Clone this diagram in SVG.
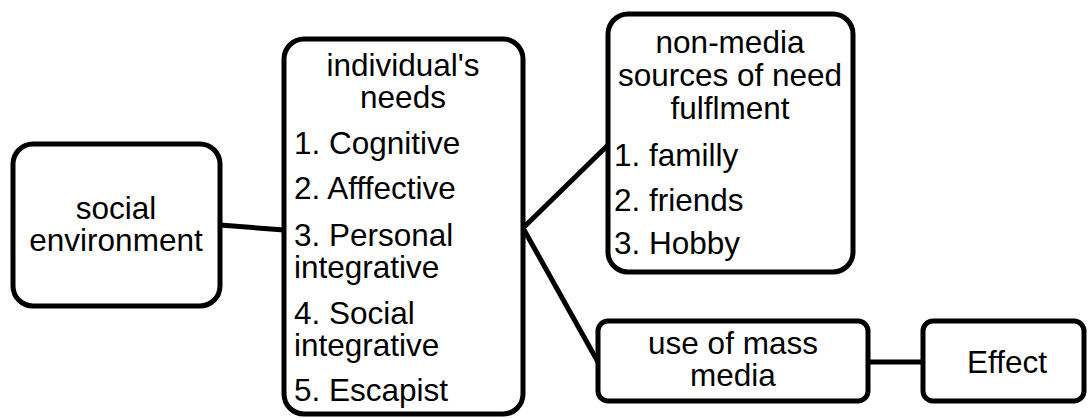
<svg xmlns="http://www.w3.org/2000/svg" width="1088" height="419" viewBox="0 0 1088 419">
<style>
.box{fill:#fff;stroke:#000;stroke-width:5}
.t{font-family:"Liberation Sans",Arial,sans-serif;font-size:31.5px;fill:#000}
.c{text-anchor:middle}
.ln{stroke:#000;stroke-width:5;fill:none}
</style>
<rect width="1088" height="419" fill="#fff"/>
<g id="connectors">
<line class="ln" x1="220" y1="225" x2="284" y2="230"/>
<line class="ln" x1="523" y1="228" x2="608" y2="145"/>
<line class="ln" x1="523" y1="228" x2="598" y2="362"/>
<line class="ln" x1="868" y1="362" x2="923" y2="362"/>
</g>
<g id="social">
<rect class="box" x="13" y="144" width="207" height="162" rx="20"/>
<text class="t c" x="116" y="219">social</text>
<text class="t c" x="116" y="251">environment</text>
</g>
<g id="needs">
<rect class="box" x="284" y="39" width="239" height="375" rx="20"/>
<text class="t c" x="403" y="76">individual's</text>
<text class="t c" x="403" y="108">needs</text>
<text class="t" x="294" y="154">1. Cognitive</text>
<text class="t" x="294" y="199">2. Afffective</text>
<text class="t" x="294" y="246">3. Personal</text>
<text class="t" x="294" y="278">integrative</text>
<text class="t" x="294" y="324">4. Social</text>
<text class="t" x="294" y="356">integrative</text>
<text class="t" x="294" y="401">5. Escapist</text>
</g>
<g id="nonmedia">
<rect class="box" x="608" y="14" width="245" height="258" rx="20"/>
<text class="t c" x="730" y="53">non-media</text>
<text class="t c" x="730" y="86">sources of need</text>
<text class="t c" x="730" y="119">fulflment</text>
<text class="t" x="614" y="166">1. familly</text>
<text class="t" x="614" y="211">2. friends</text>
<text class="t" x="614" y="254">3. Hobby</text>
</g>
<g id="massmedia">
<rect class="box" x="598" y="321" width="270" height="80" rx="10"/>
<text class="t c" x="733" y="354">use of mass</text>
<text class="t c" x="733" y="386">media</text>
</g>
<g id="effect">
<rect class="box" x="923" y="321" width="161" height="80" rx="10"/>
<text class="t c" x="1007" y="373">Effect</text>
</g>
</svg>
